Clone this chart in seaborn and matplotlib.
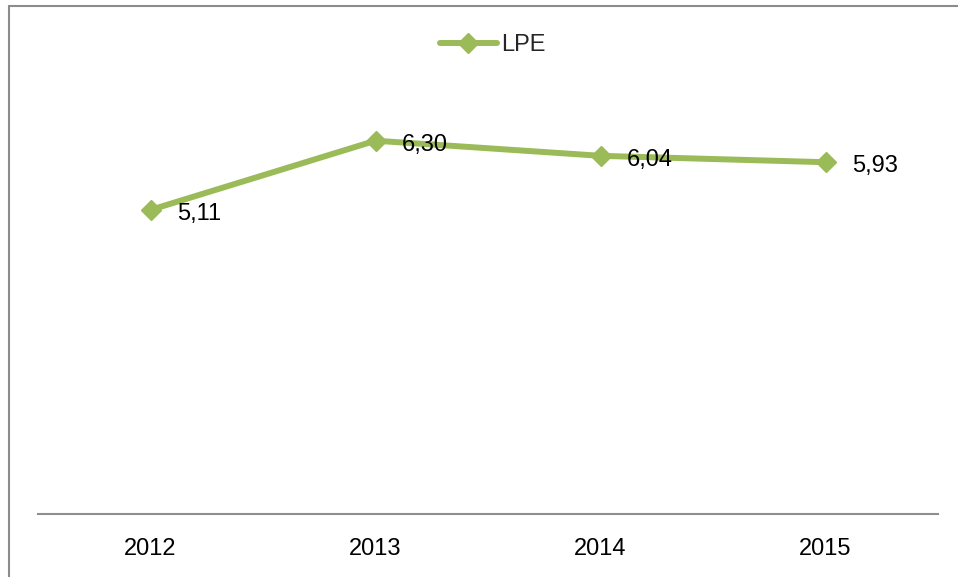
import matplotlib
matplotlib.use("Agg")
import matplotlib.pyplot as plt
from matplotlib.lines import Line2D
import seaborn as sns
import pandas as pd

years = ["2012", "2013", "2014", "2015"]
lpe = [5.11, 6.30, 6.04, 5.93]
labels = ["5,11", "6,30", "6,04", "5,93"]
series_name = "LPE"

sns.set_theme(style="white")
plt.rcParams['font.family'] = ['Liberation Sans', 'DejaVu Sans']

df = pd.DataFrame({"year": years, "value": lpe})

W, H = 958, 577
fig = plt.figure(figsize=(W / 100, H / 100), dpi=100)
ax = fig.add_axes([38 / W, (H - 514) / H, 900 / W, 414 / H])

green = "#9BBB59"
sns.lineplot(data=df, x="year", y="value", ax=ax, color=green, linewidth=4.3,
             marker="D", markersize=10.5, markeredgecolor=green, markeredgewidth=1,
             label=series_name, sort=False)

for i, (v, t) in enumerate(zip(lpe, labels)):
    ax.annotate(t, (i, v), xytext=(19, -3), textcoords="offset points",
                ha="left", va="center", fontsize=17, color="black")

ax.set_xlim(-0.5, 3.5)
ax.set_ylim(-0.12, 7)
ax.set_xlabel("")
ax.set_ylabel("")
ax.set_yticks([])
for s in ["top", "right", "left"]:
    ax.spines[s].set_visible(False)
ax.spines["bottom"].set_color("#8e8e8e")
ax.spines["bottom"].set_linewidth(1.5)
ax.tick_params(axis="x", length=0, pad=17, labelsize=17, labelcolor="black")

ax.legend(loc="center", bbox_to_anchor=(493 / W, 1 - 45 / H),
          bbox_transform=fig.transFigure, frameon=False, fontsize=17,
          handlelength=2.4, handletextpad=0.2)

# outer chart border (top and left visible)
fig.add_artist(Line2D([8.5 / W, 8.5 / W], [0, 1 - 5.5 / H], transform=fig.transFigure,
                      color="#8c8c8c", linewidth=1.5))
fig.add_artist(Line2D([8.5 / W, 1], [1 - 5.5 / H, 1 - 5.5 / H], transform=fig.transFigure,
                      color="#8c8c8c", linewidth=1.5))

fig.savefig("out.png", dpi=100)
